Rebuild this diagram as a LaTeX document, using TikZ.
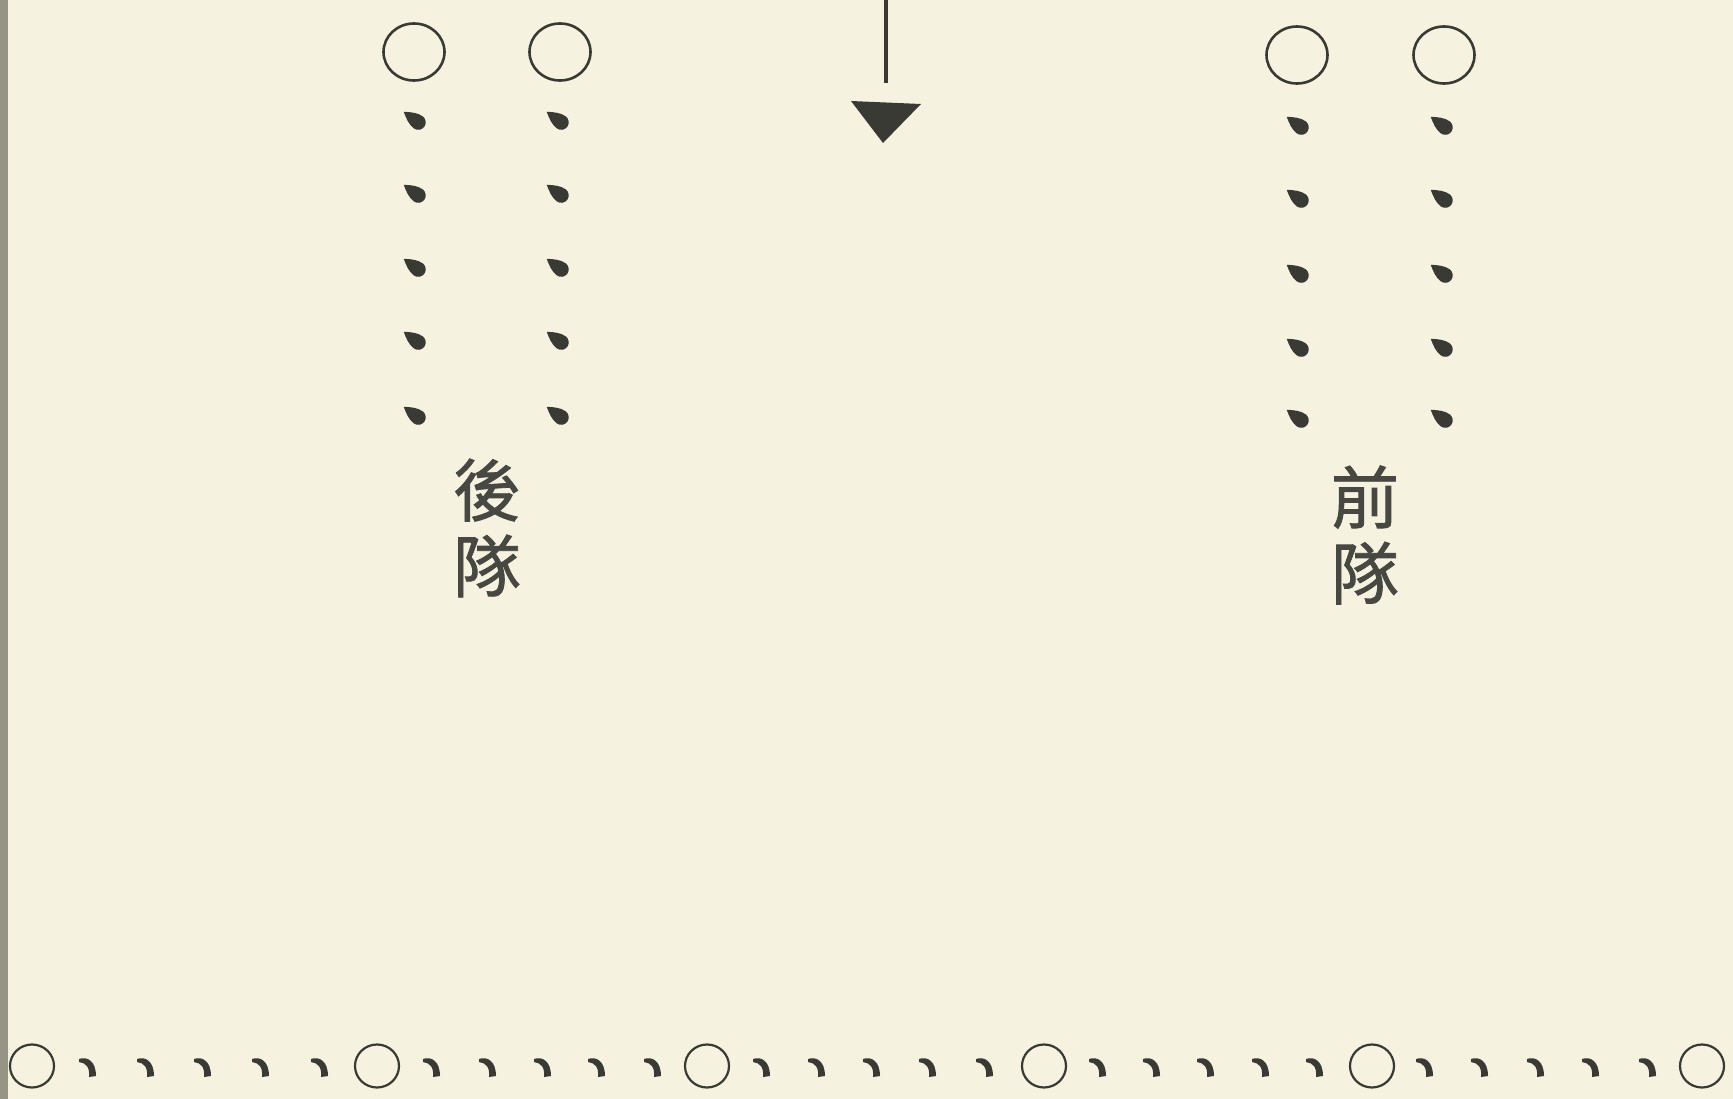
\documentclass[tikz,border=0pt]{standalone}
\usepackage{fontspec}
\newfontfamily\cjk[FakeBold=1.2]{Noto Sans CJK TC}
\usetikzlibrary{shapes.geometric}
\definecolor{paper}{RGB}{245,243,224}
\definecolor{ink}{RGB}{58,58,52}
\definecolor{txt}{RGB}{72,72,66}
\definecolor{scanedge}{RGB}{150,148,132}
\begin{document}
\begin{tikzpicture}[x=1pt,y=-1pt,
  bigring/.style={ellipse,draw=ink,line width=2.6pt,minimum width=61pt,minimum height=57pt,inner sep=0pt},
  smallring/.style={ellipse,draw=ink,line width=2.2pt,minimum width=44pt,minimum height=43pt,inner sep=0pt},
  label/.style={font=\cjk\fontsize{68}{76}\selectfont,text=txt,align=center,inner sep=0pt},
  tdrop/.pic={\fill[ink,rotate=-36] (-14,0) .. controls (-8,-4) and (-2,-7.5) .. (4,-7.5)
       arc[start angle=90,end angle=-90,radius=7.5pt] .. controls (-2,7.5) and (-8,4) .. (-14,0) -- cycle;},
  hook/.pic={\fill[ink] (-9,-8) .. controls (-1,-11) and (8,-6) .. (8,9) -- (1,10)
       .. controls (2,0) and (-2,-4) .. (-9,-5) -- cycle;}
]
\useasboundingbox (0,0) rectangle (1733,1099);
\fill[paper] (0,0) rectangle (1733,1099);
\fill[scanedge] (0,0) rectangle (8,1099);

% arrow from the top
\coordinate (arrtop) at (886,0);
\coordinate (arrend) at (886,83);
\draw[ink,line width=4.5pt] (arrtop) -- (arrend);
\fill[ink] (851,101) -- (921,104) -- (883,143) -- cycle;

% rear unit (left)
\node[bigring] (rl) at (414,52) {};
\node[bigring] (rr) at (560,52) {};
\foreach \y in {120,193,267,340,415} {
  \pic at (415,\y) {tdrop};
  \pic at (558,\y) {tdrop};
}
\node[label] (rear) at (487,528) {後\\隊};

% front unit (right)
\node[bigring] (fl) at (1297,55) {};
\node[bigring] (fr) at (1444,55) {};
\foreach \y in {125,198,273,347,418} {
  \pic at (1298,\y) {tdrop};
  \pic at (1442,\y) {tdrop};
}
\node[label] (front) at (1365,535) {前\\隊};

% bottom line
\foreach \x [count=\i] in {32,377,707,1044,1372,1702} {
  \node[smallring] (b\i) at (\x,1066) {};
}
\foreach \x in {88,146,203,261,320, 432,488,543,597,653, 762,817,872,928,985,
                1098,1152,1206,1261,1315, 1425,1480,1536,1591,1648} {
  \pic at (\x,1067) {hook};
}
\end{tikzpicture}
\end{document}
